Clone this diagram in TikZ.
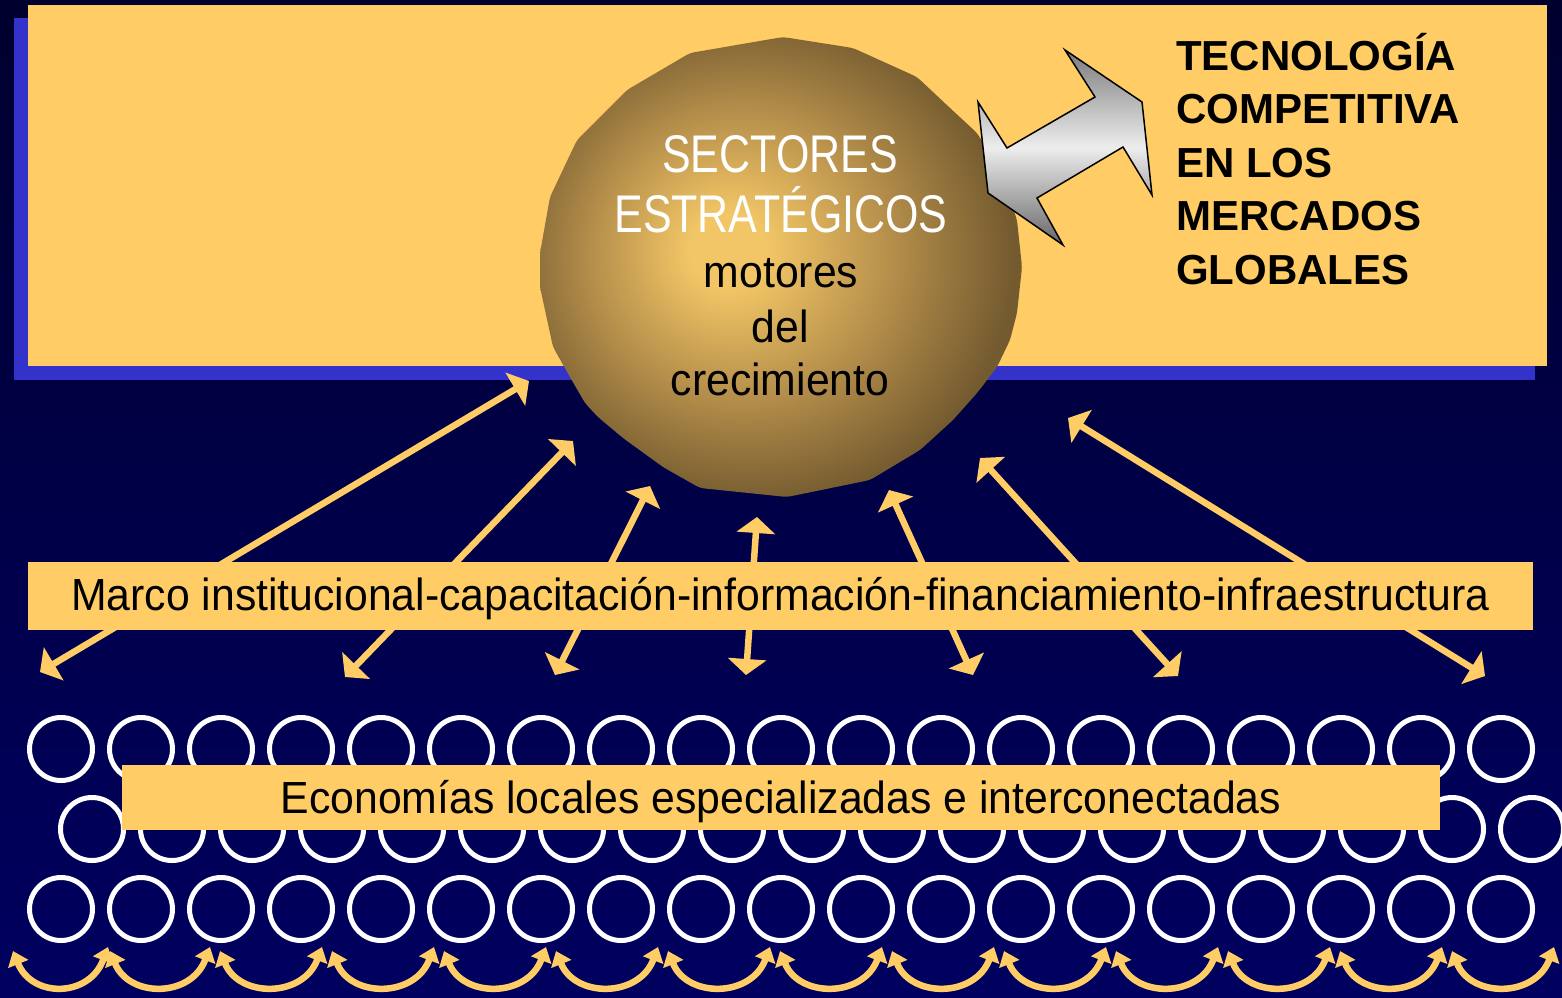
\documentclass[tikz,border=0pt]{standalone}
\usepackage{fontspec}
\setmainfont{Liberation Sans}
\newfontfamily\capsnarrow[FakeStretch=0.81]{Liberation Sans}
\newfontfamily\bodynarrow[FakeStretch=0.95]{Liberation Sans}
\usetikzlibrary{arrows.meta}
\definecolor{gold}{HTML}{FFCC66}
\definecolor{shadowblue}{HTML}{3333CC}
\definecolor{navytop}{HTML}{00002E}
\definecolor{navybot}{HTML}{000060}
\definecolor{ballc}{HTML}{F2C666}
\definecolor{ballm}{HTML}{B8914C}
\definecolor{balle}{HTML}{735A2F}
\pgfdeclareradialshading{ballshade}{\pgfpoint{-6bp}{2bp}}{color(0bp)=(ballc); color(4bp)=(ballc); color(15bp)=(ballm); color(27bp)=(balle); color(50bp)=(balle)}
\tikzset{
  ring/.style={circle, draw=white, line width=5pt, minimum size=63pt, inner sep=0pt},
  band/.style={fill=gold, inner sep=0pt, font=\bodynarrow\fontsize{45}{54}\selectfont, text=black},
  linkarrow/.style={draw=gold, line width=6.5pt, {Triangle[length=16pt,width=38pt]}-{Triangle[length=16pt,width=38pt]}},
  looparrow/.style={draw=gold, line width=6.5pt, {Triangle[length=14pt,width=21pt]}-{Triangle[length=14pt,width=21pt]}},
  whitecap/.style={anchor=base, inner sep=0pt, text=white, font=\capsnarrow\fontsize{53}{60}\selectfont},
  blacktxt/.style={anchor=base, inner sep=0pt, text=black, font=\bodynarrow\fontsize{45}{54}\selectfont}
}
\begin{document}
\begin{tikzpicture}[x=1pt, y=-1pt]
\useasboundingbox (0,0) rectangle (1562,997);
% background
\shade[top color=navytop, bottom color=navybot] (0,0) rectangle (1562,997);
% top panel with shadow
\fill[shadowblue] (14,18) rectangle (1535,380);
\fill[gold] (28,5) rectangle (1547,366);
% ball
\shade[shading=ballshade, rounded corners=4pt]
  (783,37) -- (853,48) -- (917,77) -- (950,108) -- (977,133) -- (1000,170) -- (1017,220)
  -- (1022,267) -- (1017,313) -- (1010,340) -- (997,367) -- (977,393) -- (953,420)
  -- (920,450) -- (870,480) -- (787,497) -- (700,488) -- (663,467) -- (623,438)
  -- (598,417) -- (585,403) -- (570,377) -- (553,347) -- (540,287) -- (540,253)
  -- (550,197) -- (577,140) -- (627,90) -- (690,53) -- cycle;
\node[whitecap] (sec1) at (780,172) {SECTORES};
\node[whitecap] (sec2) at (781,232) {ESTRATÉGICOS};
\node[blacktxt] (mot1) at (781,287) {motores};
\node[blacktxt] (mot2) at (780,342) {del};
\node[blacktxt] (mot3) at (780,395) {crecimiento};
% gray double arrow
\shadedraw[top color=black!52, bottom color=black!60, middle color=black!7, draw=black, line width=1.5pt, line join=miter]
  (1065,50) -- (1142,102) -- (1152,195) -- (1123,147) -- (1037,198) -- (1063,245)
  -- (988,193) -- (978,102) -- (1007,148) -- (1095,97) -- cycle;
% title
\node[anchor=base west, align=left, inner sep=0pt, font=\bfseries\fontsize{42}{53.5}\selectfont] (title) at (1176,284)
  {TECNOLOGÍA\\COMPETITIVA\\EN LOS\\MERCADOS\\GLOBALES};
% straight arrows
\coordinate (lo1) at (40,672);   \coordinate (hi1) at (529,381);
\coordinate (lo2) at (345,677);  \coordinate (hi2) at (573,441);
\coordinate (lo3) at (555,675);  \coordinate (hi3) at (650,486);
\coordinate (lo4) at (746,675);  \coordinate (hi4) at (757,517);
\coordinate (lo5) at (973,675);  \coordinate (hi5) at (889,490);
\coordinate (lo6) at (1178,676); \coordinate (hi6) at (980,458);
\coordinate (lo7) at (1485,676); \coordinate (hi7) at (1068,418);
\foreach \i in {1,...,7} { \draw[linkarrow] (lo\i) -- (hi\i); }
% marco band
\node[band, minimum width=1505pt, text height=48pt, text depth=20pt] (marco) at (780.5,596)
  {Marco institucional-capacitación-información-financiamiento-infraestructura};
% rings
\foreach \i in {0,...,18} {
  \node[ring] (ra\i) at ({61+80*\i},749) {};
  \node[ring] (rb\i) at ({92+80*\i},829) {};
  \node[ring] (rc\i) at ({61+80*\i},909) {};
}
% economias band
\node[band, minimum width=1318pt, text height=48pt, text depth=17pt] (econ) at (781,797.5)
  {Economías locales especializadas e interconectadas};
% bottom loop arrows
\coordinate (al0) at (13,951);  \coordinate (ar0) at (108,947);
\coordinate (al1) at (110,951); \coordinate (ar1) at (210,947);
\foreach \k in {2,...,13} {
  \coordinate (al\k) at ({220+112*(\k-2)},951);
  \coordinate (ar\k) at ({322+112*(\k-2)},947);
}
\foreach \k in {0,...,13} {
  \draw[looparrow] (al\k) .. controls +(19,47) and +(-19,51) .. (ar\k);
}
\end{tikzpicture}
\end{document}
